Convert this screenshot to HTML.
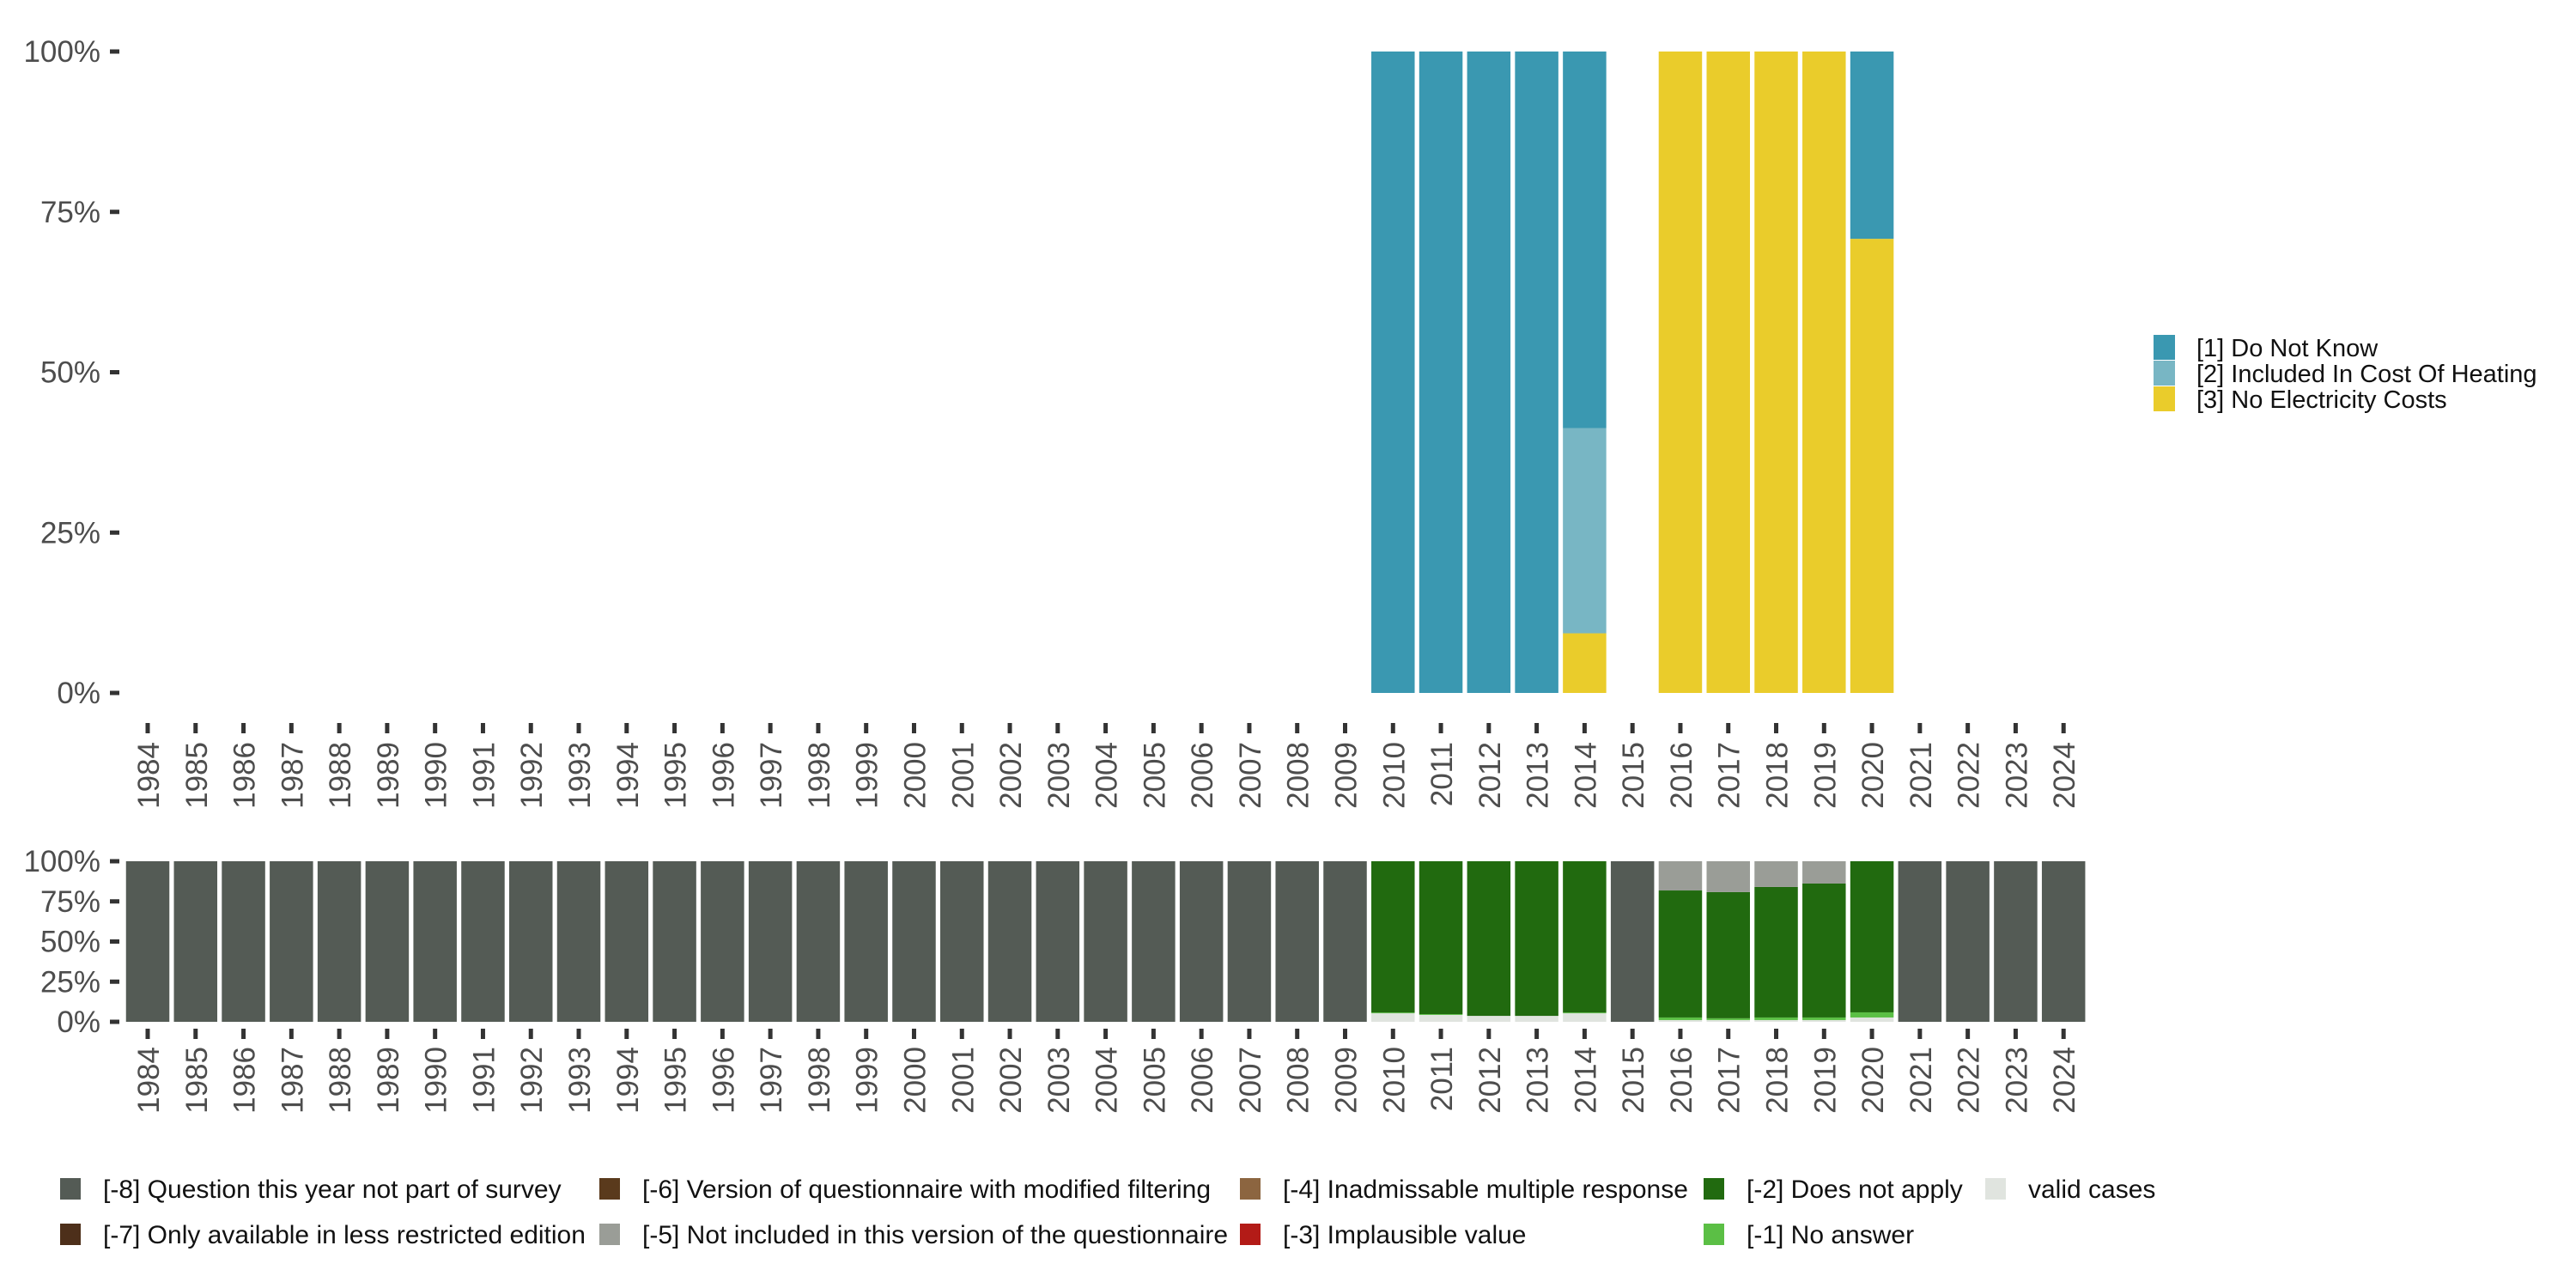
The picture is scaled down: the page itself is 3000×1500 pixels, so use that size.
<!DOCTYPE html>
<html><head><meta charset="utf-8">
<style>
html,body{margin:0;padding:0;background:#fff;}
svg{display:block;font-family:"Liberation Sans",sans-serif;}
</style></head>
<body>
<svg id="chart" width="3000" height="1500" viewBox="0 0 3000 1500" xmlns="http://www.w3.org/2000/svg">
<g id="topPanel"></g>
<g id="botPanel"></g>
<g id="legR"></g>
<g id="legB"></g>
</svg>
<script>
const years = [1984,1985,1986,1987,1988,1989,1990,1991,1992,1993,1994,1995,1996,1997,1998,1999,2000,2001,2002,2003,2004,2005,2006,2007,2008,2009,2010,2011,2012,2013,2014,2015,2016,2017,2018,2019,2020,2021,2022,2023,2024];
const yTicks = [0,25,50,75,100];
const yTickLabels = ["0%","25%","50%","75%","100%"];
// top panel (stacked bottom -> top)
const topYears = [2010,2011,2012,2013,2014,2016,2017,2018,2019,2020];
const noElectricity = [0,0,0,0,9.3,100,100,100,100,70.8];
const inclHeating   = [0,0,0,0,32,0,0,0,0,0];
const doNotKnow     = [100,100,100,100,58.7,0,0,0,0,29.2];
// bottom panel
const validCases  = [0,0,0,0,0,0,0,0,0,0,0,0,0,0,0,0,0,0,0,0,0,0,0,0,0,0,5.3,4.3,3.7,3.7,5.3,0,1.1,1.1,1.1,1.1,2.7,0,0,0,0];
const noAnswer    = [0,0,0,0,0,0,0,0,0,0,0,0,0,0,0,0,0,0,0,0,0,0,0,0,0,0,0.5,0.5,0,0,0.5,0,1.6,1.1,1.6,1.6,3.2,0,0,0,0];
const doesNotApply= [0,0,0,0,0,0,0,0,0,0,0,0,0,0,0,0,0,0,0,0,0,0,0,0,0,0,94.2,95.2,96.3,96.3,94.2,0,79.1,78.6,81.3,83.4,94.1,0,0,0,0];
const notIncluded = [0,0,0,0,0,0,0,0,0,0,0,0,0,0,0,0,0,0,0,0,0,0,0,0,0,0,0,0,0,0,0,0,18.2,19.2,16,13.9,0,0,0,0,0];
const notInSurvey = [100,100,100,100,100,100,100,100,100,100,100,100,100,100,100,100,100,100,100,100,100,100,100,100,100,100,0,0,0,0,0,100,0,0,0,0,0,100,100,100,100];

const NS="http://www.w3.org/2000/svg";
function mk(tag,attrs,parent){const e=document.createElementNS(NS,tag);for(const k in attrs)e.setAttribute(k,attrs[k]);parent.appendChild(e);return e;}
const x0=172, step=55.78, bw=50.5;
const xPos = y => x0 + (y-1984)*step;

function axes(g, yTop, yBot, tickY1, labY, name){
  const ys = v => yBot - v/100*(yBot-yTop);
  yTicks.forEach((v,i)=>{
    const t=mk('line',{x1:128,x2:139,y1:ys(v),y2:ys(v),stroke:'#333','stroke-width':5},g);
    
    
    const l=mk('text',{x:117,y:ys(v)+12,'text-anchor':'end','font-size':35,fill:'#4d4d4d'},g);
    l.textContent=yTickLabels[i];
    
    
  });
  years.forEach(yr=>{
    const x=xPos(yr);
    const t=mk('line',{x1:x,x2:x,y1:tickY1,y2:tickY1+12,stroke:'#333','stroke-width':5},g);
    
    
    const l=mk('text',{transform:`translate(${x+13},${labY}) rotate(-90)`,'text-anchor':'end','font-size':35,fill:'#4d4d4d'},g);
    l.textContent=yr;
    
    
  });
  return ys;
}
function stack(g, ys, xs, series, colors, names){
  xs.forEach((yr,i)=>{
    let acc=0;
    series.forEach((s,j)=>{
      const v=s[i]; if(!v) return;
      const r=mk('rect',{x:xPos(yr)-bw/2,y:ys(acc+v),width:bw,height:ys(acc)-ys(acc+v),fill:colors[j]},g);
      
      
      acc+=v;
    });
  });
}
const topG=document.getElementById('topPanel'), botG=document.getElementById('botPanel');
const ysT=axes(topG,60,807,842,864,'top');
stack(topG,ysT,topYears,[noElectricity,inclHeating,doNotKnow],['#eacc2b','#78b6c4','#3a98b1'],['no-electricity','incl-heating','do-not-know']);
const ysB=axes(botG,1003,1190,1198,1219,'bottom');
stack(botG,ysB,years,[validCases,noAnswer,doesNotApply,notIncluded,notInSurvey],['#e0e4df','#5bbf45','#216a0f','#9a9d97','#545b55'],['valid','no-answer','does-not-apply','not-included','not-in-survey']);

const legR=document.getElementById('legR');
[['[1] Do Not Know','#3a98b1'],['[2] Included In Cost Of Heating','#78b6c4'],['[3] No Electricity Costs','#eacc2b']].forEach((d,i)=>{
  const y=390+i*30;
  const k=mk('rect',{x:2508,y:y,width:25,height:29,fill:d[1]},legR);
  
  
  const t=mk('text',{x:2558,y:y+25,'font-size':29,fill:'#111'},legR);
  t.textContent=d[0];
  
  
});
const legB=document.getElementById('legB');
const colsX=[70,698,1444,1984,2312];
[[0,0,'[-8] Question this year not part of survey','#545b55'],[0,1,'[-7] Only available in less restricted edition','#4d2f1a'],
 [1,0,'[-6] Version of questionnaire with modified filtering','#5a3a1c'],[1,1,'[-5] Not included in this version of the questionnaire','#9a9d97'],
 [2,0,'[-4] Inadmissable multiple response','#8c6540'],[2,1,'[-3] Implausible value','#b31b17'],
 [3,0,'[-2] Does not apply','#216a0f'],[3,1,'[-1] No answer','#5bbf45'],
 [4,0,'valid cases','#e0e4df']].forEach(d=>{
  const x=colsX[d[0]], y=1372+d[1]*53;
  const k=mk('rect',{x:x,y:y,width:24,height:25,fill:d[3]},legB);
  
  
  const t=mk('text',{x:x+50,y:y+23,'font-size':30,fill:'#111'},legB);
  t.textContent=d[2];
  
  
});
</script>
</body></html>
